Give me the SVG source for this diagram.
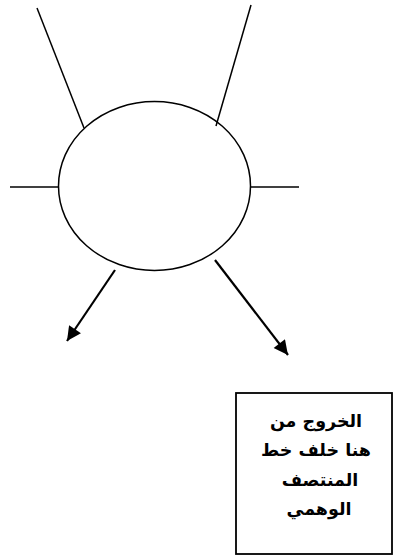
<svg xmlns="http://www.w3.org/2000/svg" width="393" height="557" viewBox="0 0 393 557">
<style>
.ln{stroke:#000;stroke-width:1.5;fill:none}
.ar{stroke:#000;stroke-width:2.2;fill:none}
.box{stroke:#000;stroke-width:1.8;fill:#fff}
.t{font-family:"DejaVu Sans","Noto Sans",sans-serif;font-weight:bold;font-size:17.5px;fill:#000;text-anchor:middle}
</style>
<defs>
<marker id="ah" viewBox="0 0 10 10" refX="10" refY="5" markerWidth="7.5" markerHeight="6.5" markerUnits="strokeWidth" orient="auto">
<path d="M0,0 L10,5 L0,10 Z" fill="#000"/>
</marker>
</defs>
<rect width="393" height="557" fill="#fff"/>
<g id="center">
<ellipse cx="154.5" cy="186" rx="96" ry="84.5" class="ln"/>
</g>
<g id="connectors">
<line x1="37" y1="8" x2="84" y2="128" class="ln"/>
<line x1="251" y1="5" x2="216" y2="126" class="ln"/>
<line x1="10" y1="187" x2="58.5" y2="187" class="ln"/>
<line x1="250.5" y1="187" x2="299" y2="187" class="ln"/>
<line x1="115" y1="270" x2="67" y2="341" class="ar" marker-end="url(#ah)"/>
<line x1="215" y1="260" x2="288" y2="355" class="ar" marker-end="url(#ah)"/>
</g>
<g id="note">
<rect x="236" y="393" width="156" height="161" class="box"/>
<text class="t" direction="rtl" x="316" y="427">الخروج من</text>
<text class="t" direction="rtl" x="316" y="456">هنا خلف خط</text>
<text class="t" direction="rtl" x="320" y="486">المنتصف</text>
<text class="t" direction="rtl" x="319" y="515">الوهمي</text>
</g>
</svg>
